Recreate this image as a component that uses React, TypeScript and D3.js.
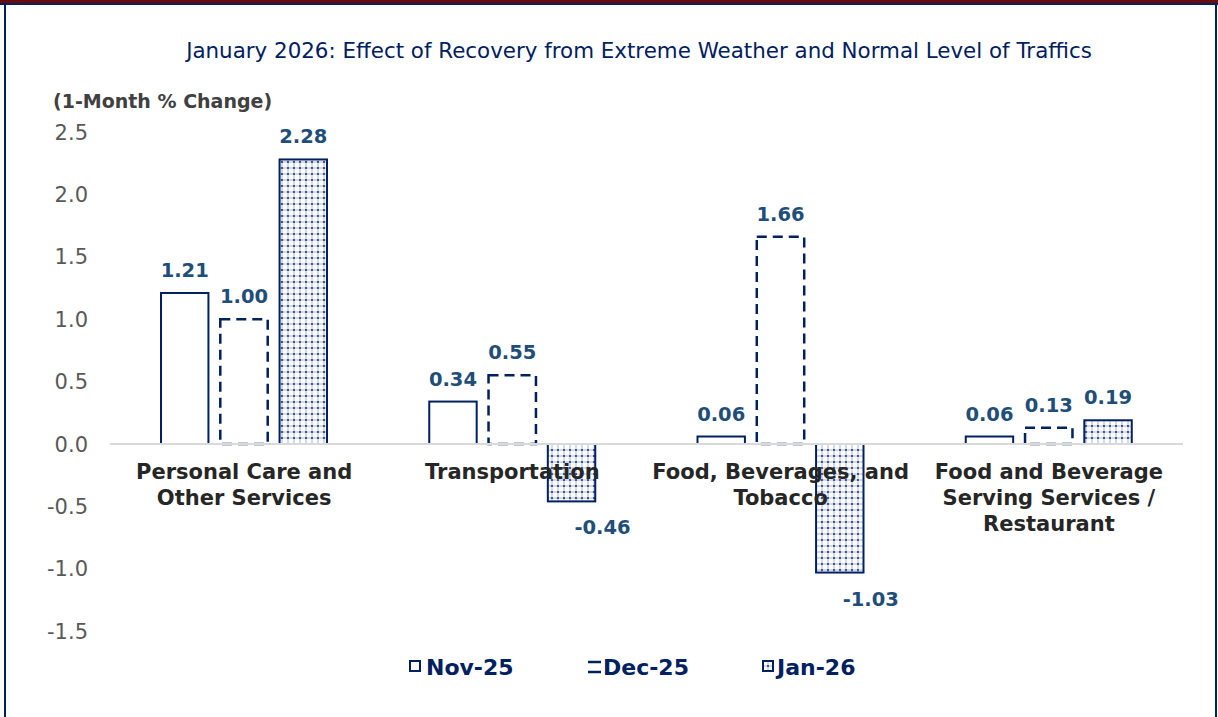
import React from 'react';
import * as d3 from 'd3';

const categories = [
  ['Personal Care and', 'Other Services'],
  ['Transportation'],
  ['Food, Beverages, and', 'Tobacco'],
  ['Food and Beverage', 'Serving Services /', 'Restaurant'],
];
const series = ['Nov-25', 'Dec-25', 'Jan-26'];
const nov25 = [1.21, 0.34, 0.06, 0.06];
const dec25 = [1.0, 0.55, 1.66, 0.13];
const jan26 = [2.28, -0.46, -1.03, 0.19];
const yTicks = [-1.5, -1.0, -0.5, 0.0, 0.5, 1.0, 1.5, 2.0, 2.5];

const W = 1218;
const H = 717;
const NAVY = '#002060';
const LABEL = '#1f4e79';
const FONT = '"DejaVu Sans", Verdana, sans-serif';

const values = [nov25, dec25, jan26];

export default function App() {
  const keys = categories.map((c) => c.join(' '));
  const x = d3.scaleBand<string>().domain(keys).range([110, 1183]).padding(0);
  const inner = d3.scaleBand<string>().domain(series).range([51, 217]).paddingInner(0.2);
  const y = d3.scaleLinear().domain([-1.5, 2.5]).range([631.2, 132]);
  const fmt = (v: number) => d3.format('.2f')(v).replace('\u2212', '-');
  const tickFmt = (v: number) => d3.format('.1f')(v).replace('\u2212', '-');

  const barStyle = (s: number) => {
    if (s === 0) return { fill: '#fff', stroke: NAVY, strokeWidth: 2 };
    if (s === 1) return { fill: '#fff', stroke: NAVY, strokeWidth: 2.5, strokeDasharray: '10 6' };
    return { fill: 'url(#dots)', stroke: NAVY, strokeWidth: 2 };
  };

  return (
    <svg width={W} height={H} style={{ position: 'absolute', left: 0, top: 0, background: '#fff' }}>
      <defs>
        <pattern id="dots" width={6} height={6} patternUnits="userSpaceOnUse">
          <rect width={6} height={6} fill="#d3d9ea" />
          <rect x={1} y={1} width={4} height={4} fill="#fff" />
          <circle cx={0} cy={0} r={1.1} fill={NAVY} opacity={0.85} />
          <circle cx={6} cy={0} r={1.1} fill={NAVY} opacity={0.85} />
          <circle cx={0} cy={6} r={1.1} fill={NAVY} opacity={0.85} />
          <circle cx={6} cy={6} r={1.1} fill={NAVY} opacity={0.85} />
        </pattern>
      </defs>

      {/* frame */}
      <rect x={0} y={0} width={W} height={3} fill="#6d0a0a" />
      <rect x={0} y={3} width={W} height={2} fill={NAVY} />
      <rect x={4} y={5} width={2} height={H} fill={NAVY} />
      <rect x={1215} y={5} width={2} height={H} fill={NAVY} />

      <text x={639} y={58} textAnchor="middle" fill={NAVY} fontFamily={FONT} fontSize={21.4}>
        January 2026: Effect of Recovery from Extreme Weather and Normal Level of Traffics
      </text>
      <text x={53} y={108} fill="#404040" fontFamily={FONT} fontSize={19} fontWeight="bold">
        (1-Month % Change)
      </text>

      {yTicks.map((t) => (
        <text key={t} x={88} y={y(t)} dy="0.36em" textAnchor="end" fill="#595959" fontFamily={FONT} fontSize={21}>
          {tickFmt(t)}
        </text>
      ))}

      {values.map((vals, s) =>
        vals.map((v, i) => {
          const bx = (x(keys[i]) ?? 0) + (inner(series[s]) ?? 0);
          const bw = inner.bandwidth();
          const top = y(Math.max(0, v));
          const h = Math.abs(y(v) - y(0));
          return <rect key={`${s}-${i}`} x={bx} y={top} width={bw} height={h} {...barStyle(s)} />;
        })
      )}

      <line x1={110} x2={1183} y1={y(0)} y2={y(0)} stroke="#d9d9d9" strokeWidth={2} />

      {categories.map((lines, i) => (
        <text key={i} textAnchor="middle" fill="#262626" fontFamily={FONT} fontSize={21} fontWeight="bold">
          {lines.map((l, j) => (
            <tspan key={j} x={(x(keys[i]) ?? 0) + x.bandwidth() / 2} y={479 + j * 26}>
              {l}
            </tspan>
          ))}
        </text>
      ))}

      {values.map((vals, s) =>
        vals.map((v, i) => {
          const cx = (x(keys[i]) ?? 0) + (inner(series[s]) ?? 0) + inner.bandwidth() / 2;
          const ly = v >= 0 ? y(v) - 16 : y(v) + 33;
          return (
            <text key={`l${s}-${i}`} x={v >= 0 ? cx : cx + 31} y={ly} textAnchor="middle" fill={LABEL}
              fontFamily={FONT} fontSize={19.5} fontWeight="bold">
              {fmt(v)}
            </text>
          );
        })
      )}

      {/* legend */}
      <g fontFamily={FONT} fontSize={22} fontWeight="bold" fill={NAVY}>
        <rect x={410} y={661} width={10} height={10} fill="#fff" stroke={NAVY} strokeWidth={2} />
        <text x={426} y={675}>{series[0]}</text>
        <line x1={588} x2={601} y1={662} y2={662} stroke={NAVY} strokeWidth={2.5} />
        <line x1={588} x2={601} y1={672} y2={672} stroke={NAVY} strokeWidth={2.5} />
        <text x={603} y={675}>{series[1]}</text>
        <rect x={763} y={661} width={10} height={10} fill="url(#dots)" stroke={NAVY} strokeWidth={2} />
        <text x={777} y={675}>{series[2]}</text>
      </g>
    </svg>
  );
}
